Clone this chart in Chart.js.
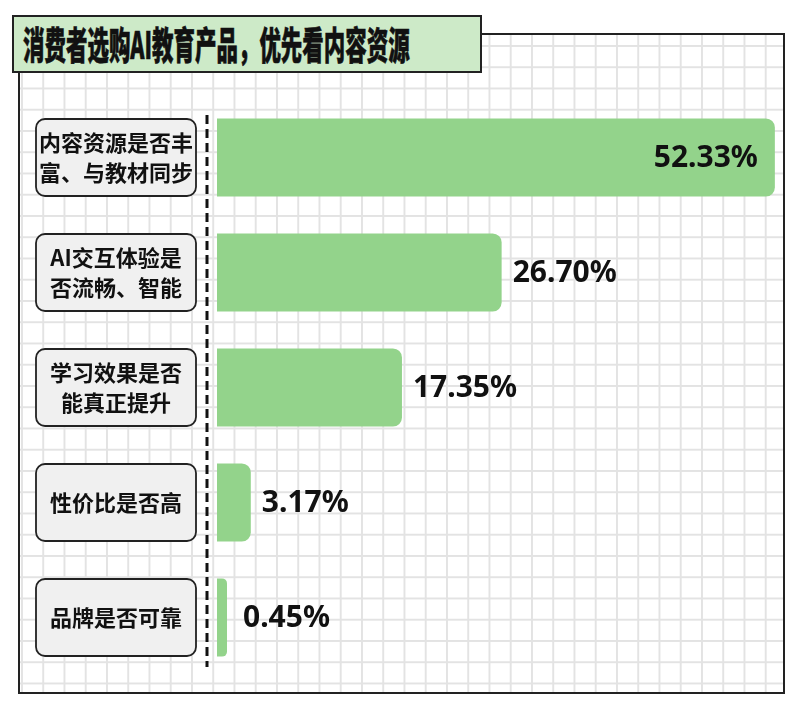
<!DOCTYPE html>
<html>
<head>
<meta charset="utf-8">
<script src="https://cdn.jsdelivr.net/npm/chart.js@4"></script>
<style>
  body { margin: 0; background: #fff; }
  #wrap { position: relative; width: 800px; height: 705px; overflow: hidden; }
  #frame {
    position: absolute; left: 18px; top: 33px; width: 763px; height: 657px;
    border: 2px solid #222;
    background-image:
      linear-gradient(#e3e3e3 1.5px, transparent 1.5px),
      linear-gradient(90deg, #e3e3e3 1.5px, transparent 1.5px);
    background-size: 21.25px 21.25px;
    background-position: 1px 10px;
  }
  #title {
    position: absolute; left: 12px; top: 15px; width: 466px; height: 54px;
    background: #cdeac8; border: 2px solid #222; overflow: hidden;
  }
  #title span {
    position: absolute; left: 9px; top: 3px; white-space: nowrap;
    font-family: "Noto Sans CJK SC", sans-serif; font-weight: 900; font-size: 38px;
    -webkit-text-stroke: 0.6px #111;
    color: #111; transform: scaleX(0.565); transform-origin: left center; line-height: 46px;
  }
  canvas { position: absolute; left: 0; top: 0; }
</style>
</head>
<body>
<div id="wrap">
  <div id="frame"></div>
  <div id="title"><span>消费者选购AI教育产品，优先看内容资源</span></div>
  <canvas id="grafico" width="800" height="705"></canvas>
</div>
<script>
// categorías (con salto de línea como en la imagen) y porcentajes
const categorias = [
  ['内容资源是否丰', '富、与教材同步'],
  ['AI交互体验是', '否流畅、智能'],
  ['学习效果是否', '能真正提升'],
  ['性价比是否高'],
  ['品牌是否可靠']
];
const porcentajes = [52.33, 26.70, 17.35, 3.17, 0.45];

const colorBarra = '#93d38b';

// cajas de etiquetas, línea discontinua y valores
const decoracion = {
  id: 'decoracion',
  afterDatasetsDraw(chart) {
    const ctx = chart.ctx;
    const y = chart.scales.y;
    const meta = chart.getDatasetMeta(0);
    ctx.save();

    // línea discontinua
    ctx.strokeStyle = '#111';
    ctx.lineWidth = 3;
    ctx.setLineDash([9, 5]);
    ctx.beginPath();
    ctx.moveTo(207, 115);
    ctx.lineTo(207, 667);
    ctx.stroke();
    ctx.setLineDash([]);

    categorias.forEach((lineas, i) => {
      const cy = y.getPixelForValue(i);
      // caja redondeada
      ctx.beginPath();
      ctx.roundRect(36, cy - 38.5, 160, 77, 9);
      ctx.fillStyle = '#f0f0f0';
      ctx.fill();
      ctx.lineWidth = 1.8;
      ctx.strokeStyle = '#222';
      ctx.stroke();

      ctx.fillStyle = '#111';
      ctx.font = 'bold 22px "Noto Sans CJK SC", sans-serif';
      ctx.textAlign = 'center';
      ctx.textBaseline = 'middle';
      const paso = 30;
      const y0 = cy - (lineas.length - 1) * paso / 2;
      lineas.forEach((t, k) => ctx.fillText(t, 116, y0 + k * paso));

      // valor
      const bar = meta.data[i];
      const texto = porcentajes[i].toFixed(2) + '%';
      ctx.font = 'bold 30px "Noto Sans", sans-serif';
      if (porcentajes[i] === Math.max(...porcentajes)) {
        ctx.textAlign = 'right';
        ctx.fillText(texto, bar.x - 17, cy + 1);
      } else {
        ctx.textAlign = 'left';
        ctx.fillText(texto, bar.x + (porcentajes[i] < 1 ? 16 : 11), cy + 1);
      }
    });
    ctx.restore();
  }
};

let grafico = document.getElementById('grafico').getContext('2d');

let diagrama = new Chart(grafico, {
  type: 'bar',
  data: {
    labels: categorias.map(l => l.join('')),
    datasets: [{
      data: porcentajes,
      backgroundColor: colorBarra,
      borderWidth: 0,
      borderRadius: 9,
      borderSkipped: 'start',
      minBarLength: 10,
      categoryPercentage: 1,
      barPercentage: 0.68
    }]
  },
  options: {
    indexAxis: 'y',
    responsive: false,
    animation: false,
    layout: { padding: { left: 217, right: 18, top: 100, bottom: 30 } },
    plugins: { legend: { display: false }, tooltip: { enabled: false } },
    scales: {
      x: { display: false, min: 0, max: 53 },
      y: { display: false }
    }
  },
  plugins: [decoracion]
});
</script>
</body>
</html>
